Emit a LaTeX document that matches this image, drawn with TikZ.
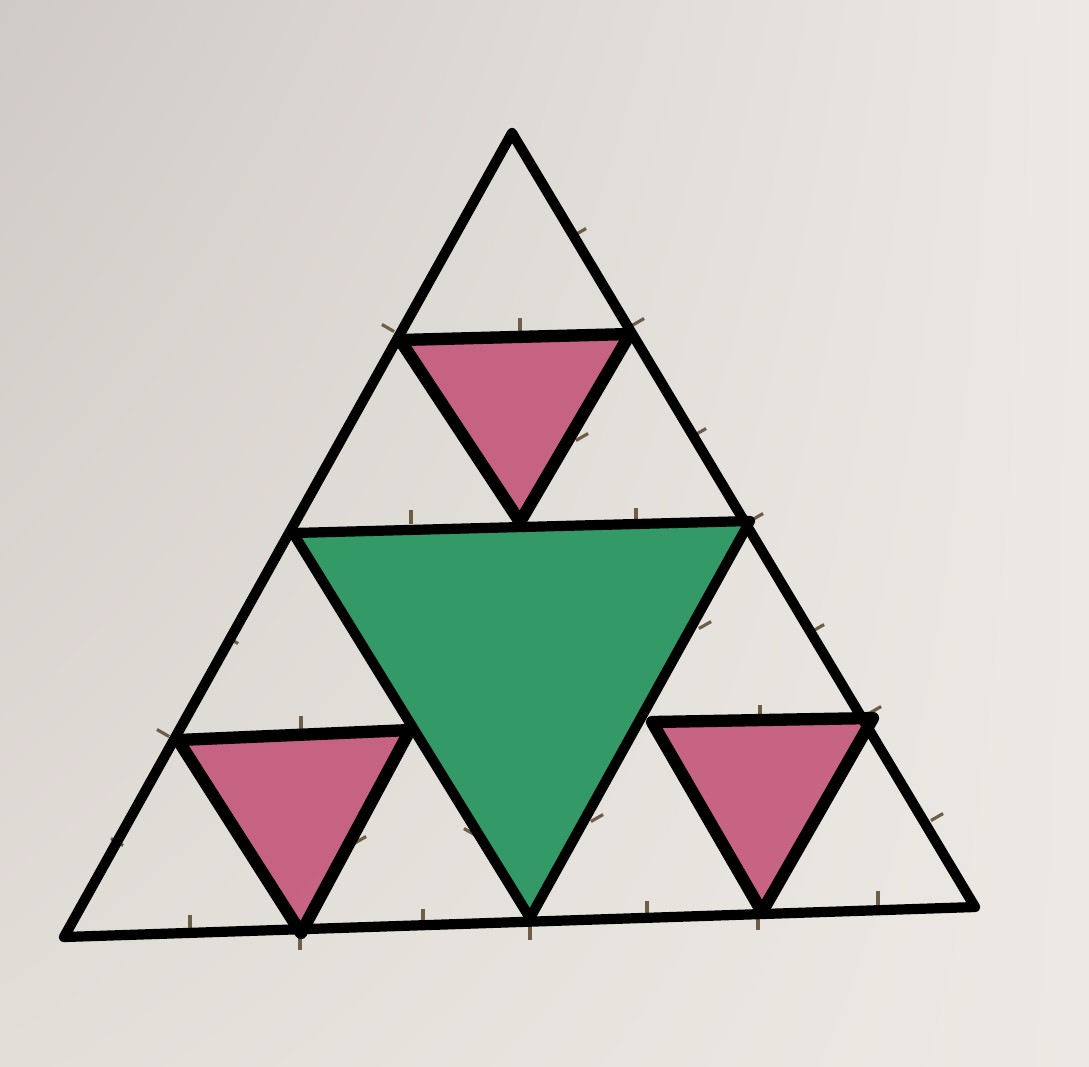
\documentclass[tikz,border=0pt]{standalone}
\usepackage{xcolor}
\usetikzlibrary{calc, shadings}

\definecolor{paperdark}{HTML}{CFCAC5}
\definecolor{paperlight}{HTML}{ECE9E4}
\definecolor{papermid}{HTML}{E2DED8}
\definecolor{crayonpink}{HTML}{C4567A}
\definecolor{crayongreen}{HTML}{2A9660}
\definecolor{pencil}{HTML}{6E5E48}

\begin{document}
\begin{tikzpicture}[
    x=0.01cm, y=-0.01cm,
    outline/.style={line width=2.9pt, line join=round, line cap=round, draw=black},
    hole/.style={line width=3.5pt, line join=round, line cap=round, draw=black},
    pinkfill/.style={fill=crayonpink, fill opacity=0.9},
    greenfill/.style={fill=crayongreen, fill opacity=0.95},
    tickmark/.style={draw=pencil, line width=0.9pt}
]
    % paper
    \shade[upper left=paperdark, upper right=paperlight, lower left=papermid, lower right=paperlight]
        (0,0) rectangle (1089,1066);
    \useasboundingbox (0,0) rectangle (1089,1066);

    % corners of the big triangle and the midpoints
    \coordinate (top) at (512,133);
    \coordinate (bl) at (64,937);
    \coordinate (br) at (975,907);
    \coordinate (ml) at (293,533);
    \coordinate (mr) at (750,521);
    \coordinate (mb) at (530,918);

    % corners of the small triangles
    \coordinate (p1) at (400,340);
    \coordinate (p2) at (630,334);
    \coordinate (p3) at (520,522);
    \coordinate (q1) at (178,740);
    \coordinate (q2) at (410,730);
    \coordinate (q3) at (301,933);
    \coordinate (s1) at (652,722);
    \coordinate (s2) at (873,718);
    \coordinate (s3) at (762,912);

    % coloured parts
    \fill[greenfill] (ml) -- (mr) -- (mb) -- cycle;
    \fill[pinkfill] (p1) -- (p2) -- (p3) -- cycle;
    \fill[pinkfill] (q1) -- (q2) -- (q3) -- cycle;
    \fill[pinkfill] (s1) -- (s2) -- (s3) -- cycle;

    % pencil ticks
    \foreach \px/\py/\ang in {580/232/-30, 700/432/-30, 388/328/30, 520/325/90, 638/322/-30,
        582/437/-30, 411/517/90, 636/515/90, 757/517/-30, 705/625/-30, 818/628/-30,
        163/733/30, 301/723/90, 117/842/30, 232/640/30, 190/922/90, 423/916/90,
        530/933/90, 360/840/-30, 470/832/30, 760/712/90, 875/710/-30, 597/818/-30,
        937/817/-30, 647/908/90, 878/898/90, 758/923/90, 300/943/90}
        \draw[tickmark] ($(\px,\py)+(\ang:7)$) -- ($(\px,\py)+(\ang+180:7)$);

    % outline
    \draw[outline] (top) -- (bl) -- (br) -- cycle;
    \draw[outline] (ml) -- (mr) -- (mb) -- cycle;
    \draw[hole] (p1) -- (p2) -- (p3) -- cycle;
    \draw[hole] (q1) -- (q2) -- (q3) -- cycle;
    \draw[hole] (s1) -- (s2) -- (s3) -- cycle;
\end{tikzpicture}
\end{document}
